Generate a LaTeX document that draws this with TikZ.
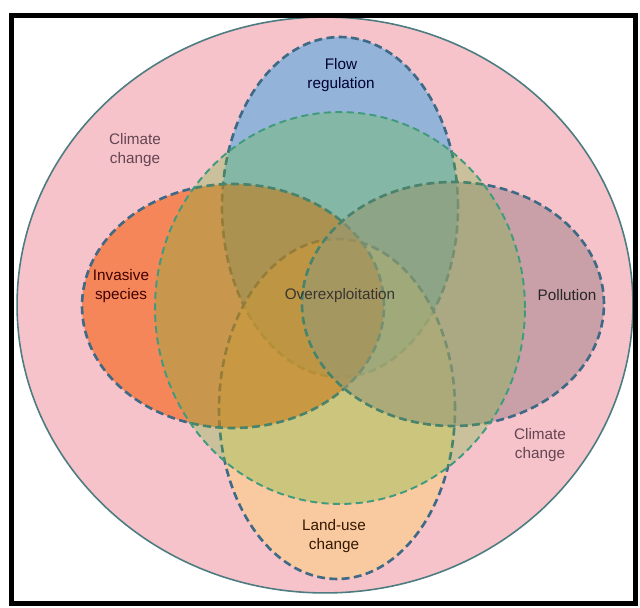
\documentclass[tikz,border=0pt]{standalone}
\usepackage{fontspec}
\setmainfont{Liberation Sans}
\definecolor{pinkbg}{HTML}{F7C3CB}
\definecolor{flowc}{HTML}{51ABE1}
\definecolor{invc}{HTML}{F35E0F}
\definecolor{polc}{HTML}{AB8991}
\definecolor{landc}{HTML}{FBCE84}
\definecolor{cenc}{HTML}{64BE32}
\definecolor{petalline}{HTML}{3E6A86}
\definecolor{cenline}{HTML}{3F9A7E}
\definecolor{bigline}{HTML}{4C7C80}
\begin{document}
\begin{tikzpicture}[x=0.02cm,y=-0.02cm,
  petal/.style={draw=petalline,line width=1.5pt,dash pattern=on 4.5pt off 2.5pt,fill opacity=0.6},
  centre/.style={draw=cenline,line width=1.1pt,dash pattern=on 4pt off 2.5pt,fill=cenc,fill opacity=0.3},
  lbl/.style={font=\fontsize{8.7}{11}\selectfont,align=center,inner sep=0pt}]
\useasboundingbox (0,0) rectangle (640,608);
\fill[white] (0,0) rectangle (640,608);
% climate change
\draw[fill=pinkbg,draw=bigline,line width=0.9pt] (325,305) ellipse [x radius=6.16cm,y radius=5.76cm];
% petals
\draw[petal,fill=flowc] (340,207) ellipse [x radius=2.36cm,y radius=3.4cm];
\draw[petal,fill=landc] (337,409) ellipse [x radius=2.36cm,y radius=3.4cm];
\draw[petal,fill=invc] (233,306) ellipse [x radius=3.02cm,y radius=2.44cm];
\draw[petal,fill=polc] (453,304) ellipse [x radius=3.02cm,y radius=2.44cm];
% overexploitation
\draw[centre] (340,308) ellipse [x radius=3.7cm,y radius=3.92cm];
% frame
\draw[line width=0.1cm] (11.5,15.5) rectangle (635.5,603);
% labels
\node[lbl,text=black!80!blue] (flow) at (341,75) {Flow\\regulation};
\node[lbl,text=black!75!red] (inv) at (121,286) {Invasive\\species};
\node[lbl,text=black!85] (pol) at (567,295) {Pollution};
\node[lbl,text=black!80!orange] (land) at (334,536) {Land-use\\change};
\node[lbl,text=black!90!yellow] (over) at (340,296) {Overexploitation};
\node[lbl,text=black!70!magenta] (cc1) at (135,150) {Climate\\change};
\node[lbl,text=black!70!magenta] (cc2) at (540,445) {Climate\\change};
\end{tikzpicture}
\end{document}
